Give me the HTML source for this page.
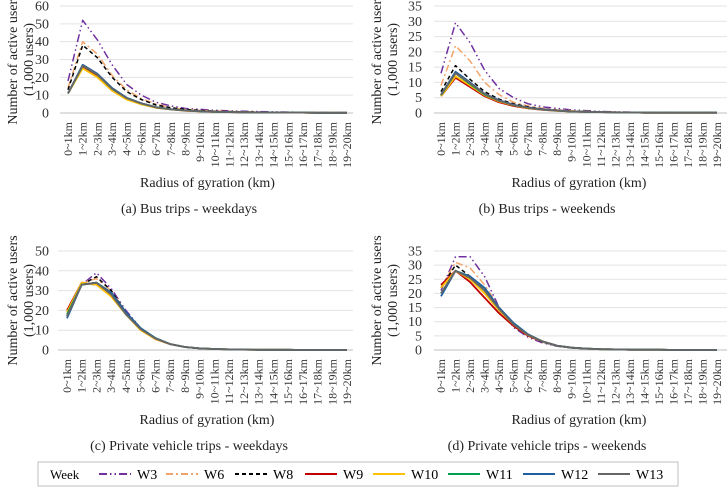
<!DOCTYPE html>
<html><head><meta charset="utf-8">
<style>
html,body{margin:0;padding:0;background:#fff;}
svg, svg text{font-family:"Liberation Serif","DejaVu Serif",serif;}
svg{display:block;}
</style></head>
<body>
<svg id="chart" width="728" height="488" viewBox="0 0 728 488" xmlns="http://www.w3.org/2000/svg" font-family="Liberation Serif, serif">
<g id="legend">
<rect x="38" y="462" width="640" height="24" fill="#fff" stroke="#bfbfbf" stroke-width="1"/>
<text x="50" y="479" font-size="13" fill="#000" font-family="Liberation Serif, serif">Week</text>
</g>
</svg>
<script>
const categories=["0~1km","1~2km","2~3km","3~4km","4~5km","5~6km","6~7km","7~8km","8~9km","9~10km","10~11km","11~12km","12~13km","13~14km","14~15km","15~16km","16~17km","17~18km","18~19km","19~20km"];
const weeks=["W3","W6","W8","W9","W10","W11","W12","W13"];
// Panel (a) bus weekdays
const busWeekdayW3=[18,52,41,27,16,10,6,4,2.5,2,1.5,1.2,1,0.8,0.6,0.5,0.4,0.3,0.3,0.2];
const busWeekdayW6=[14,40,33,21,13,8,5,3,2,1.5,1.1,0.9,0.7,0.5,0.4,0.3,0.3,0.2,0.2,0.1];
const busWeekdayW8=[13,38,31,20,12,7.5,4.5,3,2,1.4,1,0.8,0.6,0.5,0.4,0.3,0.2,0.2,0.1,0.1];
const busWeekdayW9=[11,26,21,13,8,5,3,2,1.3,0.9,0.7,0.5,0.4,0.3,0.3,0.2,0.2,0.1,0.1,0.1];
const busWeekdayW10=[11,25,20,12.5,7.5,4.8,3,2,1.3,0.9,0.7,0.5,0.4,0.3,0.3,0.2,0.2,0.1,0.1,0.1];
const busWeekdayW11=[11,26.5,21.5,13.5,8.5,5.3,3.2,2.1,1.4,1,0.7,0.5,0.4,0.3,0.3,0.2,0.2,0.1,0.1,0.1];
const busWeekdayW12=[11,27,22,14,8.5,5.5,3.3,2.2,1.4,1,0.7,0.5,0.4,0.3,0.3,0.2,0.2,0.1,0.1,0.1];
const busWeekdayW13=[11,26.5,21.5,13.5,8.3,5.3,3.2,2.1,1.4,1,0.7,0.5,0.4,0.3,0.3,0.2,0.2,0.1,0.1,0.1];
// Panel (b) bus weekends
const busWeekendW3=[13,29.5,23,14,8,5,3,2,1.5,1,0.8,0.5,0.4,0.3,0.2,0.2,0.2,0.1,0.2,0.1];
const busWeekendW6=[9,22,17,10,6,3.5,2.3,1.5,1,0.8,0.6,0.4,0.3,0.2,0.2,0.1,0.1,0.1,0.1,0.1];
const busWeekendW8=[7,15.5,11,7,4.5,3,2,1.3,0.9,0.6,0.5,0.3,0.3,0.2,0.1,0.1,0.1,0.1,0.1,0.1];
const busWeekendW9=[5.5,11.5,8.5,5.5,3.5,2.3,1.5,1,0.7,0.5,0.4,0.3,0.2,0.2,0.1,0.1,0.1,0.1,0.1,0.1];
const busWeekendW10=[5.5,12,9,5.8,3.8,2.5,1.6,1.1,0.7,0.5,0.4,0.3,0.2,0.2,0.1,0.1,0.1,0.1,0.1,0.1];
const busWeekendW11=[5.8,13,9.5,6,4,2.6,1.7,1.1,0.8,0.5,0.4,0.3,0.2,0.2,0.1,0.1,0.1,0.1,0.1,0.1];
const busWeekendW12=[6,13.5,10,6.3,4.2,2.7,1.8,1.2,0.8,0.5,0.4,0.3,0.2,0.2,0.1,0.1,0.1,0.1,0.1,0.1];
const busWeekendW13=[6,13,9.7,6.2,4,2.6,1.7,1.1,0.8,0.5,0.4,0.3,0.2,0.2,0.1,0.1,0.1,0.1,0.1,0.1];
// Panel (c) private vehicle weekdays
const carWeekdayW3=[17,33,39,31,20,11,6,3,1.5,0.8,0.5,0.3,0.2,0.1,0.1,0.1,0,0,0,0];
const carWeekdayW6=[18,34,36,30,19,11,6,3,1.5,0.8,0.5,0.3,0.2,0.1,0.1,0.1,0,0,0,0];
const carWeekdayW8=[17,33,37,30,19,11,6,3,1.5,0.8,0.5,0.3,0.2,0.1,0.1,0.1,0,0,0,0];
const carWeekdayW9=[20,34,33,28,18,10.5,5.5,3,1.5,0.8,0.5,0.3,0.2,0.1,0.1,0.1,0,0,0,0];
const carWeekdayW10=[19,34,33,27,18,10,5.5,3,1.5,0.8,0.5,0.3,0.2,0.1,0.1,0.1,0,0,0,0];
const carWeekdayW11=[18,33,34,29,19,11,6,3,1.5,0.8,0.5,0.3,0.2,0.1,0.1,0.1,0,0,0,0];
const carWeekdayW12=[16,33,34,29,19,11,6,3,1.5,0.8,0.5,0.3,0.2,0.1,0.1,0.1,0,0,0,0];
const carWeekdayW13=[17,33,34,28,18,10.5,5.8,3,1.5,0.8,0.5,0.3,0.2,0.1,0.1,0.1,0,0,0,0];
// Panel (d) private vehicle weekends
const carWeekendW3=[21,33,33,26,15,8,4.5,2.5,1.3,0.8,0.5,0.3,0.2,0.1,0.1,0.1,0,0,0,0];
const carWeekendW6=[22,31,29,23,15,9,5,2.8,1.4,0.8,0.5,0.3,0.2,0.1,0.1,0.1,0,0,0,0];
const carWeekendW8=[22,30,26,21,14,9,5,2.8,1.4,0.8,0.5,0.3,0.2,0.1,0.1,0.1,0,0,0,0];
const carWeekendW9=[23,28,24,18.5,13,8.5,5,3,1.5,0.8,0.5,0.3,0.2,0.1,0.1,0.1,0,0,0,0];
const carWeekendW10=[22,28,25,20,14,9,5.2,3,1.5,0.8,0.5,0.3,0.2,0.1,0.1,0.1,0,0,0,0];
const carWeekendW11=[20,28,26,21,14.5,9.5,5.5,3,1.5,0.8,0.5,0.3,0.2,0.1,0.1,0.1,0,0,0,0];
const carWeekendW12=[19,28,26,22,15,9.5,5.5,3,1.5,0.8,0.5,0.3,0.2,0.1,0.1,0.1,0,0,0,0];
const carWeekendW13=[20,28,25.5,21,14.5,9,5.3,3,1.5,0.8,0.5,0.3,0.2,0.1,0.1,0.1,0,0,0,0];
const ticksA=[0,10,20,30,40,50,60];
const ticksB=[0,5,10,15,20,25,30,35];
const ticksC=[0,10,20,30,40,50];
const ticksD=[0,5,10,15,20,25,30,35];
const captions=["(a) Bus trips - weekdays","(b) Bus trips - weekends","(c) Private vehicle trips - weekdays","(d) Private vehicle trips - weekends"];

const NS="http://www.w3.org/2000/svg";
const FONT="Liberation Serif, DejaVu Serif, serif";
const svg=document.getElementById('chart');
const styles=[
 {c:"#7030a0",d:"8 3 1.5 3 1.5 3"},
 {c:"#f4a46a",d:"7 3 2 3"},
 {c:"#000000",d:"4 3"},
 {c:"#c00000",d:""},
 {c:"#ffc000",d:""},
 {c:"#00a050",d:""},
 {c:"#1f5f9f",d:""},
 {c:"#666666",d:""}];
function el(tag,attrs,parent){const e=document.createElementNS(NS,tag);for(const k in attrs)e.setAttribute(k,attrs[k]);if(tag==='text')e.setAttribute('font-family',FONT);(parent||svg).appendChild(e);return e;}

const panels=[
 {ox:0,gx0:60,gx1:353,x0:68,x1:347,y0:113,y1:6,ticks:ticksA,lx:49,series:[busWeekdayW3,busWeekdayW6,busWeekdayW8,busWeekdayW9,busWeekdayW10,busWeekdayW11,busWeekdayW12,busWeekdayW13],name:"bus-weekdays"},
 {ox:364,gx0:434,gx1:727,x0:441,x1:717,y0:113,y1:6,ticks:ticksB,lx:422,series:[busWeekendW3,busWeekendW6,busWeekendW8,busWeekendW9,busWeekendW10,busWeekendW11,busWeekendW12,busWeekendW13],name:"bus-weekends"},
 {ox:0,gx0:58,gx1:353,x0:67,x1:347,y0:350,y1:251,ticks:ticksC,lx:49,series:[carWeekdayW3,carWeekdayW6,carWeekdayW8,carWeekdayW9,carWeekdayW10,carWeekdayW11,carWeekdayW12,carWeekdayW13],name:"car-weekdays"},
 {ox:364,gx0:434,gx1:727,x0:441,x1:717,y0:350,y1:251,ticks:ticksD,lx:422,series:[carWeekendW3,carWeekendW6,carWeekendW8,carWeekendW9,carWeekendW10,carWeekendW11,carWeekendW12,carWeekendW13],name:"car-weekends"}];

panels.forEach((p,pi)=>{
 const g=el('g',{});
 
 
 const maxV=p.ticks[p.ticks.length-1];
 const ys=v=>p.y0+(p.y1-p.y0)*v/maxV;
 const xs=i=>p.x0+(p.x1-p.x0)*i/(categories.length-1);
 p.ticks.forEach(t=>{
  const y=ys(t);
  const ln=el('line',{x1:p.gx0,x2:p.gx1,y1:y,y2:y,stroke:t===0?"#bfbfbf":"#e3e3e3","stroke-width":1},g);
  
  
  const tx=el('text',{x:p.lx,y:y+4.5,"font-size":14,"text-anchor":"end",fill:"#333"},g);
  tx.textContent=t;
  
  
 });
 categories.forEach((c,i)=>{
  const x=xs(i), yTop=p.y0+9;
  const tx=el('text',{x:0,y:0,"font-size":12,"text-anchor":"end",fill:"#333",transform:`translate(${x+4},${yTop}) rotate(-90)`},g);
  tx.textContent=c;
  
  
 });
 const xt=el('text',{x:(p.x0+p.x1)/2,y:p.y0+74,"font-size":14,"text-anchor":"middle",fill:"#222"},g);
 xt.textContent="Radius of gyration (km)";
 
 
 const cy=(p.y0+p.y1)/2;
 const yt=el('text',{x:0,y:0,"font-size":14,"text-anchor":"middle",fill:"#222",transform:`translate(${p.ox+17},${cy}) rotate(-90)`},g);
 yt.textContent="Number of active users";
 
 
 const yt2=el('text',{x:0,y:0,"font-size":14,"text-anchor":"middle",fill:"#222",transform:`translate(${p.ox+33},${cy}) rotate(-90)`},g);
 yt2.textContent="(1,000 users)";
 
 
 const cap=el('text',{x:p.ox+(pi%2?183:189),y:p.y0+100,"font-size":14,"text-anchor":"middle",fill:"#222"},g);
 cap.textContent=captions[pi];
 
 
 p.series.forEach((s,si)=>{
  const pts=s.map((v,i)=>xs(i).toFixed(1)+","+ys(v).toFixed(1)).join(" ");
  const st=styles[si];
  const pl=el('polyline',{points:pts,fill:"none",stroke:st.c,"stroke-width":si<3?1.5:1.8,"stroke-dasharray":st.d,"stroke-linejoin":"round"},g);
  
  
 });
});

const lg=document.getElementById('legend');
const lineX=[99,166,235,305,373,448,523,598];
weeks.forEach((w,i)=>{
 const st=styles[i];
 const item=el('g',{},lg);
 
 
 el('line',{x1:lineX[i],x2:lineX[i]+32,y1:474,y2:474,stroke:st.c,"stroke-width":2,"stroke-dasharray":st.d},item);
 const t=el('text',{x:lineX[i]+38,y:479,"font-size":14,fill:"#000"},item);
 t.textContent=w;
});
</script>
</body></html>
